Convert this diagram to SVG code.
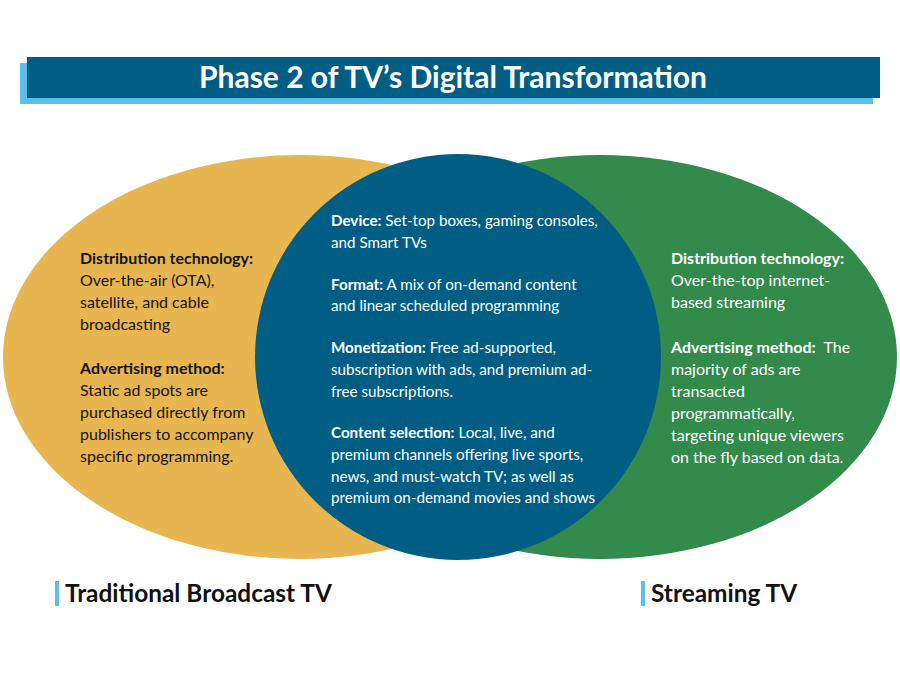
<svg xmlns="http://www.w3.org/2000/svg" width="900" height="675" viewBox="0 0 900 675">
<style>
.t{font-family:Lato,"Open Sans","Liberation Sans",sans-serif;font-size:16px}
.c{font-size:15.2px}
.b{font-weight:bold}
.dk{fill:#141414}
.wh{fill:#ffffff}
.lbl{font-family:Lato,"Open Sans","Liberation Sans",sans-serif;font-size:24.4px;font-weight:bold;fill:#111111}
</style>
<rect width="900" height="675" fill="#ffffff"/>
<g id="title">
<rect x="20" y="63" width="853" height="41" fill="#5BC0EE"/>
<rect x="27" y="57" width="853" height="41" fill="#005E84"/>
<text x="453" y="88" text-anchor="middle" font-family="Lato,'Open Sans','Liberation Sans',sans-serif" font-size="30" font-weight="bold" fill="#ffffff">Phase 2 of TV’s Digital Transformation</text>
</g>
<g id="traditional">
<ellipse cx="300" cy="357" rx="297" ry="202" fill="#E8B651"/>
</g>
<g id="streaming">
<ellipse cx="600" cy="357" rx="297" ry="202" fill="#328A4B"/>
</g>
<g id="overlap">
<circle cx="458" cy="357" r="203" fill="#005E84"/>
</g>
<g id="traditional-text" class="t dk">
<text x="80" y="264"><tspan class="b">Distribution technology:</tspan></text>
<text x="80" y="286">Over-the-air (OTA),</text>
<text x="80" y="308">satellite, and cable</text>
<text x="80" y="330">broadcasting</text>
<text x="80" y="374"><tspan class="b">Advertising method:</tspan></text>
<text x="80" y="396">Static ad spots are</text>
<text x="80" y="418">purchased directly from</text>
<text x="80" y="440">publishers to accompany</text>
<text x="80" y="462">specific programming.</text>
</g>
<g id="overlap-text" class="t c wh">
<text x="331" y="226"><tspan class="b">Device:</tspan> Set-top boxes, gaming consoles,</text>
<text x="331" y="248">and Smart TVs</text>
<text x="331" y="290"><tspan class="b">Format:</tspan> A mix of on-demand content</text>
<text x="331" y="311">and linear scheduled programming</text>
<text x="331" y="353"><tspan class="b">Monetization:</tspan> Free ad-supported,</text>
<text x="331" y="375">subscription with ads, and premium ad-</text>
<text x="331" y="397">free subscriptions.</text>
<text x="331" y="438"><tspan class="b">Content selection:</tspan> Local, live, and</text>
<text x="331" y="460">premium channels offering live sports,</text>
<text x="331" y="482">news, and must-watch TV; as well as</text>
<text x="331" y="503">premium on-demand movies and shows</text>
</g>
<g id="streaming-text" class="t wh">
<text x="671" y="264"><tspan class="b">Distribution technology:</tspan></text>
<text x="671" y="286">Over-the-top internet-</text>
<text x="671" y="308">based streaming</text>
<text x="671" y="353" xml:space="preserve"><tspan class="b">Advertising method:</tspan>  The</text>
<text x="671" y="375">majority of ads are</text>
<text x="671" y="397">transacted</text>
<text x="671" y="419">programmatically,</text>
<text x="671" y="441">targeting unique viewers</text>
<text x="671" y="463">on the fly based on data.</text>
</g>
<g id="label-traditional">
<rect x="55" y="581" width="4" height="25" fill="#5BC0EE"/>
<text x="65" y="602" class="lbl">Traditional Broadcast TV</text>
</g>
<g id="label-streaming">
<rect x="641" y="581" width="4" height="25" fill="#5BC0EE"/>
<text x="651" y="602" class="lbl">Streaming TV</text>
</g>
</svg>
